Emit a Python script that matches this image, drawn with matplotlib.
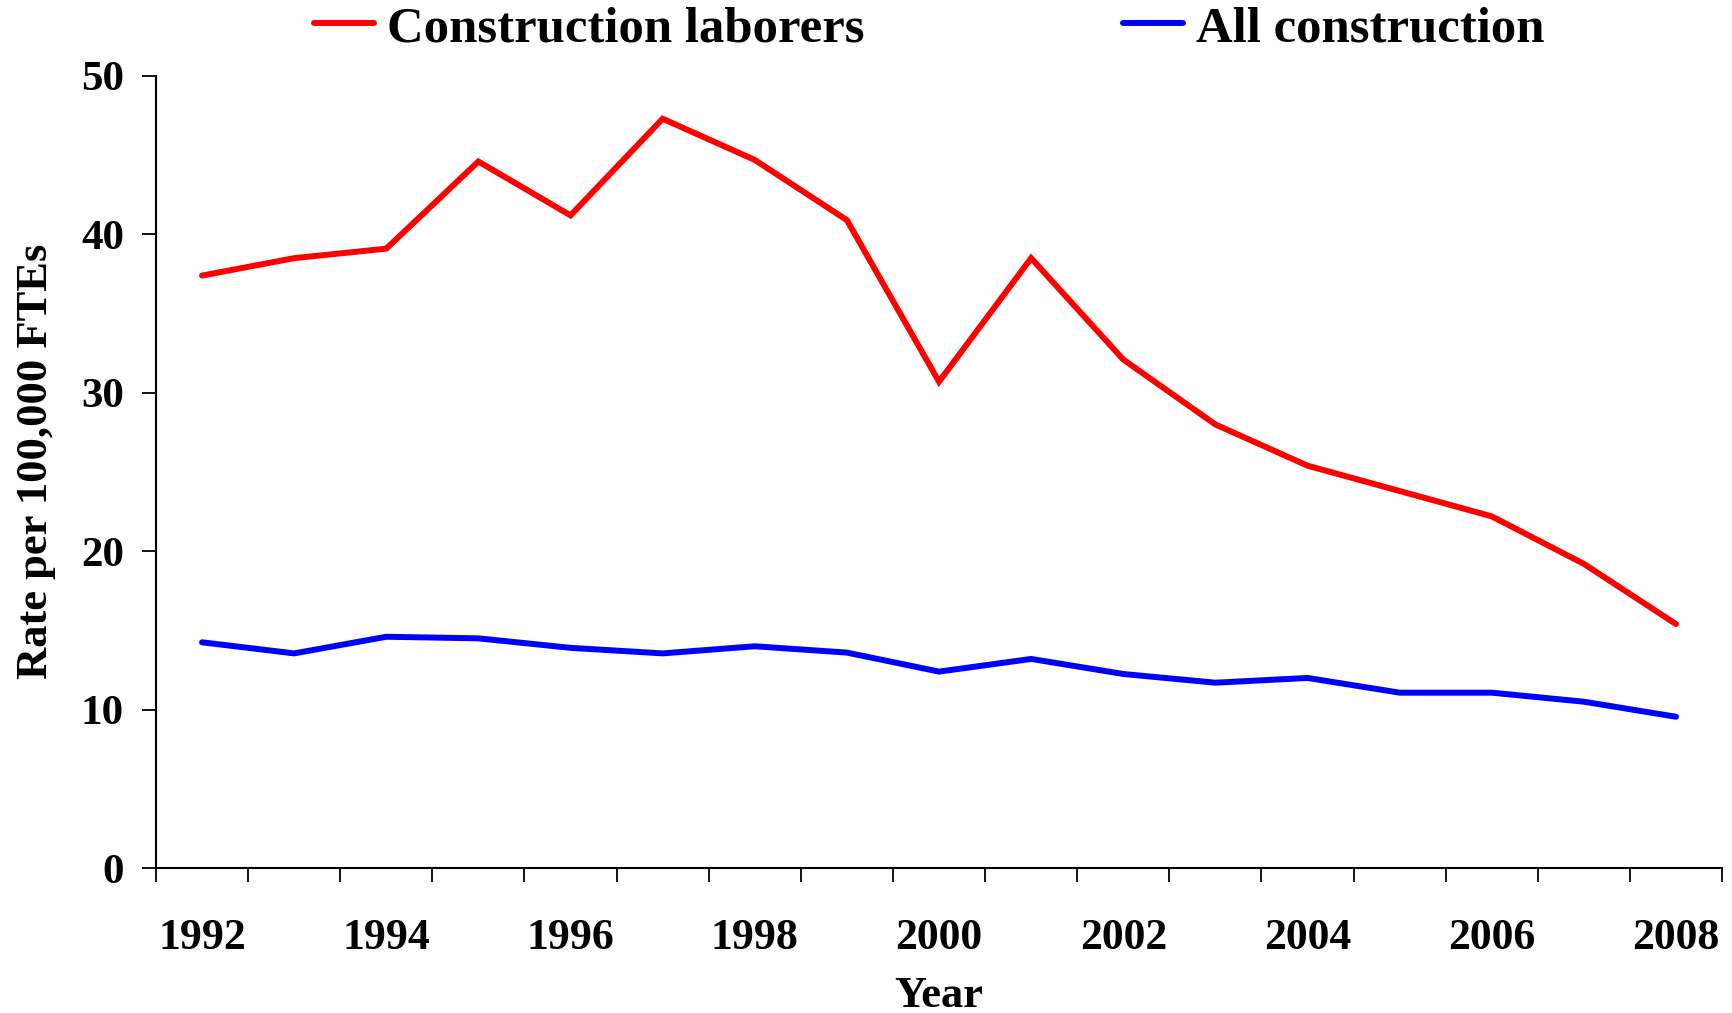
import numpy as np
import matplotlib
matplotlib.use('Agg')
import matplotlib.pyplot as plt

# fatality rates per 100,000 FTEs, 1992-2008
years = list(range(1992, 2009))
laborers = [37.4, 38.5, 39.1, 44.6, 41.2, 47.3, 44.7, 40.9, 30.7, 38.5,
            32.1, 28.0, 25.4, 23.8, 22.2, 19.2, 15.4]
all_construction = [14.25, 13.55, 14.6, 14.5, 13.9, 13.55, 14.0, 13.6, 12.4, 13.2,
                    12.25, 11.7, 12.0, 11.07, 11.07, 10.5, 9.55]
year_labels = [str(y) for y in years[::2]]

plt.rcParams['font.family'] = ['Liberation Serif', 'DejaVu Serif']
plt.rcParams['font.weight'] = 'bold'

fig = plt.figure(figsize=(17.33, 10.13), dpi=100)
ax = fig.add_axes([0.09, 0.1431, 0.9937 - 0.09, 0.925 - 0.1431])

# categories sit in the middle of each year slot, ticks on the slot edges
xpos = np.arange(len(years)) + 0.5
ax.plot(xpos, laborers, color='#ff0000', lw=4.3, label='Construction laborers',
        solid_capstyle='round', solid_joinstyle='miter')
ax.plot(xpos, all_construction, color='#0000ff', lw=4.3, label='All construction',
        solid_capstyle='round', solid_joinstyle='miter')

ax.set_xlim(0, len(years))
ax.set_ylim(0, 50)
ax.set_xticks(np.arange(len(years) + 1))
ax.set_xticklabels([])
ax.set_xticks(xpos[::2], minor=True)
ax.set_xticklabels(year_labels, minor=True)
ax.set_yticks([0, 10, 20, 30, 40, 50])

for s in ['top', 'right']:
    ax.spines[s].set_visible(False)
for s in ['left', 'bottom']:
    ax.spines[s].set_linewidth(1.5)

ax.tick_params(axis='both', which='major', direction='out', length=10, width=1.3,
               labelsize=31)
ax.tick_params(axis='y', pad=13)
ax.tick_params(axis='x', which='minor', length=0, labelsize=31.5, pad=36)

ax.set_xlabel('Year', fontsize=32, fontweight='bold')
ax.set_ylabel('Rate per 100,000 FTEs', fontsize=32, fontweight='bold')
ax.xaxis.set_label_coords(0.5, -0.1755)
ax.xaxis.label.set_verticalalignment('baseline')
ax.yaxis.set_label_coords(-0.064, 0.513)

fig.legend(loc='center', bbox_to_anchor=(0.536, 0.9715), ncol=2, frameon=False,
           fontsize=36.5, handlelength=1.2, handletextpad=0.24, columnspacing=5.1,
           borderpad=0, borderaxespad=0)

fig.savefig('out.png', dpi=100, facecolor='white')
